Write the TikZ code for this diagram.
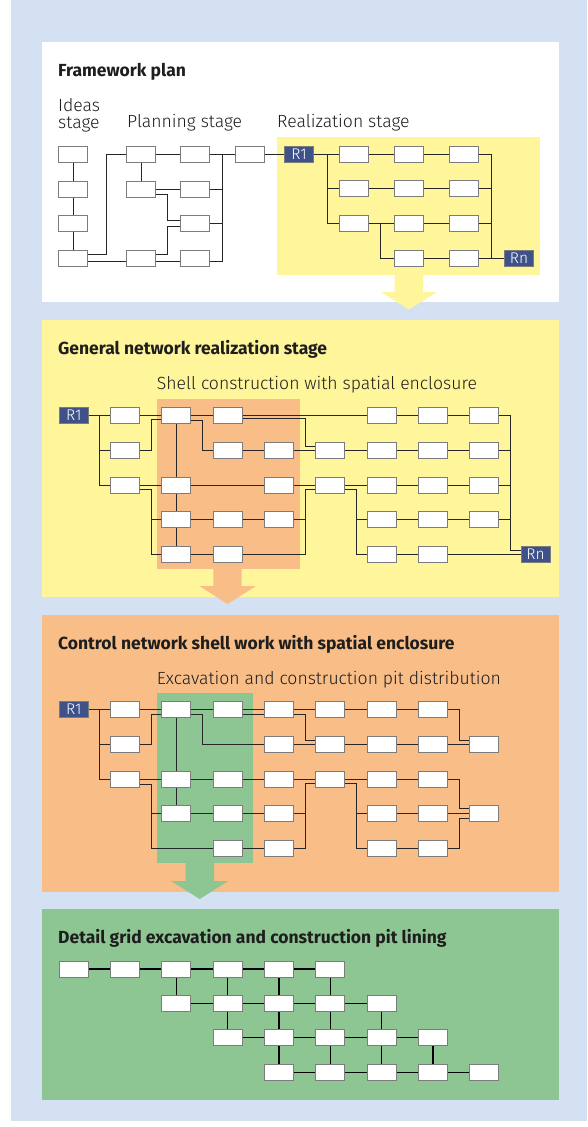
\documentclass[tikz,border=0pt]{standalone}
\usepackage{fontspec}
\setmainfont{Fira Sans}
\newfontfamily\lightfont{Fira Sans Light}
\pgfdeclarelayer{bg}
\pgfdeclarelayer{ln}
\pgfsetlayers{bg,ln,main}
\definecolor{bluebg}{HTML}{D3E1F2}
\definecolor{yel}{HTML}{FFF59B}
\definecolor{ora}{HTML}{F9BD87}
\definecolor{grn}{HTML}{8DC693}
\definecolor{rblue}{HTML}{3E5289}
\definecolor{boxgray}{HTML}{7C7C7C}
\definecolor{linec}{HTML}{262626}
\definecolor{txt}{HTML}{1E1E1E}
\begin{document}
\begin{tikzpicture}[x=1pt,y=-1pt,
  bx/.style={draw=boxgray,fill=white,line width=0.9pt,minimum width=29pt,minimum height=16pt,inner sep=0pt},
  rbx/.style={draw=boxgray,fill=rblue,line width=0.8pt,text=white,font=\lightfont\fontsize{15.5}{15.5}\selectfont,minimum width=29pt,minimum height=16pt,inner sep=0pt},
  ln/.style={line width=0.9pt,draw=linec},
  ln4/.style={line width=1.3pt,draw=black},
  ttl/.style={anchor=base west,inner sep=0pt,text=txt,font=\fontsize{17.5}{20}\selectfont\bfseries},
  lbl/.style={anchor=base west,inner sep=0pt,text=txt,font=\lightfont\fontsize{17.6}{16.3}\selectfont}]
\useasboundingbox (0,0) rectangle (587,1127);

% ---------- backgrounds ----------
\begin{pgfonlayer}{bg}
\fill[bluebg] (11,0) rectangle (587,1121);
\fill[white] (42,42) rectangle (559,302);
\fill[yel] (277,137) rectangle (540,275);
\fill[yel] (394.5,274) -- (423,274) -- (423,292) -- (437,292) -- (409,309.5) -- (381,292) -- (394.5,292) -- cycle;
\fill[yel] (42,320) rectangle (559,596.7);
\fill[ora] (156.7,399) rectangle (300,569);
\fill[ora] (213.3,568) -- (241.7,568) -- (241.7,586) -- (256,586) -- (227.5,604) -- (199.3,586) -- (213.3,586) -- cycle;
\fill[ora] (42,615) rectangle (559,891.7);
\fill[grn] (156.7,692.7) rectangle (253.3,862.7);
\fill[grn] (185.7,862) -- (214,862) -- (214,881) -- (228.3,881) -- (199.7,899) -- (171,881) -- (185.7,881) -- cycle;
\fill[grn] (42,909) rectangle (559,1100);
\end{pgfonlayer}

% ---------- texts ----------
\node[ttl] (t1) at (58,76) {Framework plan};
\node[lbl,align=left,anchor=north west] (l1) at (58,98.5) {Ideas\\stage};
\node[lbl] (l2) at (127,127.3) {Planning stage};
\node[lbl] (l3) at (277,127.3) {Realization stage};
\node[ttl] (t2) at (58,354) {General network realization stage};
\node[lbl] (l4) at (156.7,389.3) {Shell construction with spatial enclosure};
\node[ttl] (t3) at (58,649.3) {Control network shell work with spatial enclosure};
\node[lbl] (l5) at (156.7,684) {Excavation and construction pit distribution};
\node[ttl] (t4) at (58,943.3) {Detail grid excavation and construction pit lining};

% ---------- panel 1 nodes ----------
\node[bx] (i1) at (73,154.3) {};
\node[bx] (i2) at (73,189) {};
\node[bx] (i3) at (73,223.5) {};
\node[bx] (i4) at (73,258.3) {};
\node[bx] (p11) at (141,154.3) {};
\node[bx] (p12) at (195,154.3) {};
\node[bx] (p13) at (250,154.3) {};
\node[bx] (p21) at (141,189) {};
\node[bx] (p22) at (195,189) {};
\node[bx] (p32) at (195,223.5) {};
\node[bx] (p41) at (141,258.3) {};
\node[bx] (p42) at (195,258.3) {};
\node[rbx] (R1a) at (299,154.3) {R1};
\node[bx] (a11) at (354,154.3) {};
\node[bx] (a12) at (409,154.3) {};
\node[bx] (a13) at (464,154.3) {};
\node[bx] (a21) at (354,188.7) {};
\node[bx] (a22) at (409,188.7) {};
\node[bx] (a23) at (464,188.7) {};
\node[bx] (a31) at (354,223.5) {};
\node[bx] (a32) at (409,223.5) {};
\node[bx] (a33) at (464,223.5) {};
\node[bx] (a42) at (409,258.3) {};
\node[bx] (a43) at (464,258.3) {};
\node[rbx] (Rna) at (519,258.3) {Rn};

% ---------- panel 2 nodes ----------
\node[rbx] (R1b) at (73.8,415) {R1};
\node[bx] (b11) at (125.1,415) {};
\node[bx] (b12) at (176.4,415) {};
\node[bx] (b13) at (227.7,415) {};
\node[bx] (b16) at (381.6,415) {};
\node[bx] (b17) at (432.9,415) {};
\node[bx] (b18) at (484.2,415) {};
\node[bx] (b21) at (125.1,450) {};
\node[bx] (b23) at (227.7,450) {};
\node[bx] (b24) at (279,450) {};
\node[bx] (b25) at (330.3,450) {};
\node[bx] (b26) at (381.6,450) {};
\node[bx] (b27) at (432.9,450) {};
\node[bx] (b28) at (484.2,450) {};
\node[bx] (b31) at (125.1,485) {};
\node[bx] (b32) at (176.4,485) {};
\node[bx] (b34) at (279,485) {};
\node[bx] (b35) at (330.3,485) {};
\node[bx] (b36) at (381.6,485) {};
\node[bx] (b37) at (432.9,485) {};
\node[bx] (b38) at (484.2,485) {};
\node[bx] (b42) at (176.4,519.5) {};
\node[bx] (b43) at (227.7,519.5) {};
\node[bx] (b44) at (279,519.5) {};
\node[bx] (b46) at (381.6,519.5) {};
\node[bx] (b47) at (432.9,519.5) {};
\node[bx] (b48) at (484.2,519.5) {};
\node[bx] (b52) at (176.4,554) {};
\node[bx] (b53) at (227.7,554) {};
\node[bx] (b56) at (381.6,554) {};
\node[bx] (b57) at (432.9,554) {};
\node[rbx] (Rnb) at (535.5,554) {Rn};

% ---------- panel 3 nodes ----------
\node[rbx] (R1c) at (73.8,709.3) {R1};
\node[bx] (c11) at (125.1,709.3) {};
\node[bx] (c12) at (176.4,709.3) {};
\node[bx] (c13) at (227.7,709.3) {};
\node[bx] (c14) at (279,709.3) {};
\node[bx] (c15) at (330.3,709.3) {};
\node[bx] (c16) at (381.6,709.3) {};
\node[bx] (c17) at (432.9,709.3) {};
\node[bx] (c21) at (125.1,744) {};
\node[bx] (c24) at (279,744) {};
\node[bx] (c25) at (330.3,744) {};
\node[bx] (c26) at (381.6,744) {};
\node[bx] (c27) at (432.9,744) {};
\node[bx] (c28) at (484.2,744) {};
\node[bx] (c31) at (125.1,779) {};
\node[bx] (c32) at (176.4,779) {};
\node[bx] (c33) at (227.7,779) {};
\node[bx] (c34) at (279,779) {};
\node[bx] (c35) at (330.3,779) {};
\node[bx] (c36) at (381.6,779) {};
\node[bx] (c37) at (432.9,779) {};
\node[bx] (c42) at (176.4,813.5) {};
\node[bx] (c43) at (227.7,813.5) {};
\node[bx] (c44) at (279,813.5) {};
\node[bx] (c46) at (381.6,813.5) {};
\node[bx] (c47) at (432.9,813.5) {};
\node[bx] (c48) at (484.2,813.5) {};
\node[bx] (c53) at (227.7,848.3) {};
\node[bx] (c54) at (279,848.3) {};
\node[bx] (c56) at (381.6,848.3) {};
\node[bx] (c57) at (432.9,848.3) {};

% ---------- panel 4 nodes ----------
\node[bx] (d10) at (73.8,969) {};
\node[bx] (d11) at (125.1,969) {};
\node[bx] (d12) at (176.4,969) {};
\node[bx] (d13) at (227.7,969) {};
\node[bx] (d14) at (279,969) {};
\node[bx] (d15) at (330.3,969) {};
\node[bx] (d22) at (176.4,1003.3) {};
\node[bx] (d23) at (227.7,1003.3) {};
\node[bx] (d24) at (279,1003.3) {};
\node[bx] (d25) at (330.3,1003.3) {};
\node[bx] (d26) at (381.6,1003.3) {};
\node[bx] (d33) at (227.7,1037.5) {};
\node[bx] (d34) at (279,1037.5) {};
\node[bx] (d35) at (330.3,1037.5) {};
\node[bx] (d36) at (381.6,1037.5) {};
\node[bx] (d37) at (432.9,1037.5) {};
\node[bx] (d44) at (279,1072.3) {};
\node[bx] (d45) at (330.3,1072.3) {};
\node[bx] (d46) at (381.6,1072.3) {};
\node[bx] (d47) at (432.9,1072.3) {};
\node[bx] (d48) at (484.2,1072.3) {};

% ---------- bus coordinates ----------
\coordinate (pEx) at (222.7,0);
\coordinate (aLx) at (327.3,0);
\coordinate (aEx) at (491,0);
\coordinate (bLx) at (99.3,0);
\coordinate (bAx) at (151,0);
\coordinate (bRx) at (305,0);
\coordinate (bSx) at (356,0);
\coordinate (bEx) at (510,0);
\coordinate (cLx) at (99.3,0);
\coordinate (cAx) at (151,0);
\coordinate (cRx) at (305,0);
\coordinate (cSx) at (356,0);
\coordinate (cEx) at (459.3,0);

\begin{pgfonlayer}{ln}
% panel 1
\draw[ln] (i1) -- (i2) -- (i3) -- (i4);
\draw[ln] ([yshift=3.7pt]i4.east) -- ++(18.4,0) |- (p11.west);
\draw[ln] ([yshift=-3.4pt]i4.east) -- ([yshift=-3.4pt]p41.west);
\draw[ln] (p11) -- (p21);
\draw[ln] (p21) -- (p22);
\draw[ln] ([yshift=-5pt]p21.east) -- ++(11,0) |- ([yshift=3.4pt]p32.west);
\draw[ln] ([yshift=4.3pt]p41.east) -- ++(11,0) |- ([yshift=-3.3pt]p32.west);
\draw[ln] ([yshift=-3.4pt]p41.east) -- ([yshift=-3.4pt]p42.west);
\draw[ln] ([yshift=-3.4pt]p42.east) -| (pEx |- p12.east);
\draw[ln] (p22.east) -- (pEx |- p22.east);
\draw[ln] (p32.east) -- (pEx |- p32.east);
\draw[ln] (p11) -- (p12) -- (p13) -- (R1a) -- (a11) -- (a12) -- (a13);
\draw[ln] (aLx |- R1a.east) -- (aLx |- a31.west) -- (a31.west);
\draw[ln] (aLx |- a21.west) -- (a21.west);
\draw[ln] (a21) -- (a22) -- (a23);
\draw[ln] (a31) -- (a32) -- (a33);
\draw[ln] (a42) -- (a43) -- (Rna);
\draw[ln] (a31.east) -- ++(11.7,0) |- (a42.west);
\draw[ln] (a13.east) -| (aEx |- a43.east);
\draw[ln] (a23.east) -- (aEx |- a23.east);
\draw[ln] (a33.east) -- (aEx |- a33.east);
% panel 2
\draw[ln] (R1b) -- (b11);
\draw[ln] (bLx |- R1b.east) -- (bLx |- b31.west) -- (b31.west);
\draw[ln] (bLx |- b21.west) -- (b21.west);
\draw[ln] (b11) -- (b12);
\draw[ln] (b21.east) -| ([yshift=-4.3pt]b12.west -| bAx) -- ([yshift=-4.3pt]b12.west);
\draw[ln] (b31) -- (b32);
\draw[ln] ([yshift=-4pt]b31.east) -| (bAx |- b52.west) -- (b52.west);
\draw[ln] (bAx |- b42.west) -- (b42.west);
\draw[ln] (b12) -- (b32) -- (b42) -- (b52);
\draw[ln] (b12) -- (b13) -- (b16) -- (b17) -- (b18);
\draw[ln] ([yshift=-5pt]b12.east) -- ++(11,0) |- (b23.west);
\draw[ln] ([yshift=-3.5pt]b13.east) -| ([yshift=4pt]b25.west -| bRx) -- ([yshift=4pt]b25.west);
\draw[ln] (b23) -- (b24) -- (b25) -- (b26) -- (b27) -- (b28);
\draw[ln] (b32) -- (b34) -- (b35) -- (b36) -- (b37) -- (b38);
\draw[ln] ([yshift=-4pt]b35.west) -| (bRx |- b53.east) -- (b53.east);
\draw[ln] (b44.east) -- (bRx |- b44.east);
\draw[ln] (b42) -- (b43) -- (b44);
\draw[ln] (b52) -- (b53);
\draw[ln] ([yshift=-4pt]b35.east) -| (bSx |- b56.west) -- (b56.west);
\draw[ln] (bSx |- b46.west) -- (b46.west);
\draw[ln] (b46) -- (b47) -- (b48);
\draw[ln] (b56) -- (b57) -- (Rnb);
\draw[ln] (b18.east) -| ([yshift=4pt]Rnb.west -| bEx) -- ([yshift=4pt]Rnb.west);
\draw[ln] (b28.east) -- (bEx |- b28.east);
\draw[ln] (b38.east) -- (bEx |- b38.east);
\draw[ln] (b48.east) -- (bEx |- b48.east);
% panel 3
\draw[ln] (R1c) -- (c11);
\draw[ln] (cLx |- R1c.east) -- (cLx |- c31.west) -- (c31.west);
\draw[ln] (cLx |- c21.west) -- (c21.west);
\draw[ln] (c11) -- (c12);
\draw[ln] (c21.east) -| ([yshift=-5pt]c12.west -| cAx) -- ([yshift=-5pt]c12.west);
\draw[ln] (c31) -- (c32);
\draw[ln] ([yshift=-5pt]c31.east) -| (cAx |- c53.west) -- (c53.west);
\draw[ln] (cAx |- c42.west) -- (c42.west);
\draw[ln] (c12) -- (c32) -- (c42);
\draw[ln] (c12) -- (c13) -- (c14) -- (c15) -- (c16) -- (c17);
\draw[ln] ([yshift=-5pt]c12.east) -- ++(11,0) |- (c24.west);
\draw[ln] ([yshift=-5pt]c13.east) -| ([yshift=4pt]c25.west -| cRx) -- ([yshift=4pt]c25.west);
\draw[ln] (c24) -- (c25) -- (c26) -- (c27) -- (c28);
\draw[ln] (c17.east) -| ([yshift=4pt]c28.west -| cEx) -- ([yshift=4pt]c28.west);
\draw[ln] (c32) -- (c33) -- (c34) -- (c35) -- (c36) -- (c37);
\draw[ln] ([yshift=-4.3pt]c35.west) -| (cRx |- c54.east) -- (c54.east);
\draw[ln] (c44.east) -- (cRx |- c44.east);
\draw[ln] ([yshift=-4.3pt]c35.east) -| (cSx |- c56.west) -- (c56.west);
\draw[ln] (cSx |- c46.west) -- (c46.west);
\draw[ln] (c42) -- (c43) -- (c44);
\draw[ln] (c53) -- (c54);
\draw[ln] (c46) -- (c47) -- (c48);
\draw[ln] (c56) -- (c57);
\draw[ln] (c37.east) -| ([yshift=5pt]c48.west -| cEx) -- ([yshift=5pt]c48.west);
\draw[ln] (c57.east) -| ([yshift=-5pt]c48.west -| cEx) -- ([yshift=-5pt]c48.west);
% panel 4
\draw[ln4] (d10) -- (d11) -- (d12) -- (d13) -- (d14) -- (d15);
\draw[ln4] (d22) -- (d23) -- (d24) -- (d25) -- (d26);
\draw[ln4] (d33) -- (d34) -- (d35) -- (d36) -- (d37);
\draw[ln4] (d44) -- (d45) -- (d46) -- (d47) -- (d48);
\draw[ln4] (d12) -- (d22);
\draw[ln4] (d13) -- (d23) -- (d33);
\draw[ln4] (d14) -- (d24) -- (d34) -- (d44);
\draw[ln4] (d15) -- (d25) -- (d35) -- (d45);
\draw[ln4] (d26) -- (d36) -- (d46);
\draw[ln4] (d37) -- (d47);
\end{pgfonlayer}
\end{tikzpicture}
\end{document}
